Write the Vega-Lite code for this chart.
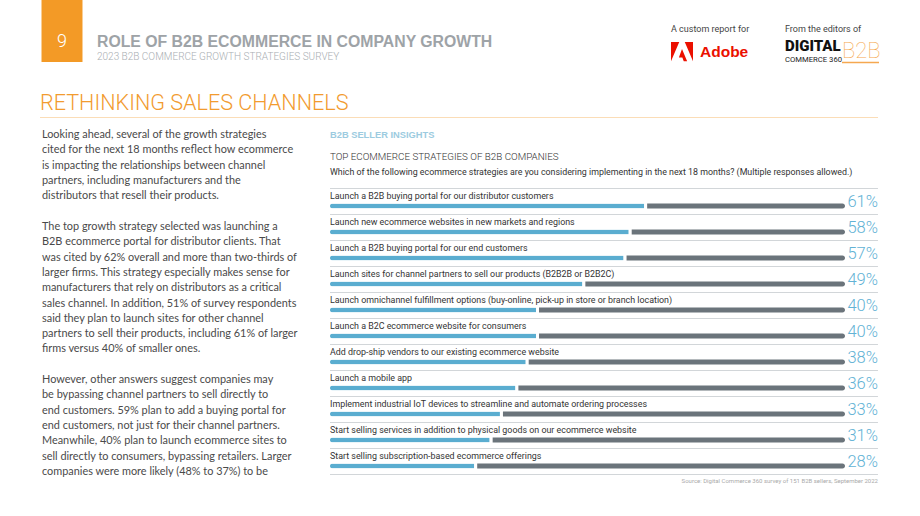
{
  "$schema": "https://vega.github.io/schema/vega-lite/v6.json",
  "width": 920,
  "height": 516,
  "autosize": {"type": "fit", "contains": "padding"},
  "padding": 0,
  "background": "white",
  "config": {"view": {"stroke": null}},
  "data": {"values": [
      {"rank": 1, "strategy": "Launch a B2B buying portal for our distributor customers", "share": 0.61},
      {"rank": 2, "strategy": "Launch new ecommerce websites in new markets and regions", "share": 0.58},
      {"rank": 3, "strategy": "Launch a B2B buying portal for our end customers", "share": 0.57},
      {"rank": 4, "strategy": "Launch sites for channel partners to sell our products (B2B2B or B2B2C)", "share": 0.49},
      {"rank": 5, "strategy": "Launch omnichannel fulfillment options (buy-online, pick-up in store or branch location)", "share": 0.40},
      {"rank": 6, "strategy": "Launch a B2C ecommerce website for consumers", "share": 0.40},
      {"rank": 7, "strategy": "Add drop-ship vendors to our existing ecommerce website", "share": 0.38},
      {"rank": 8, "strategy": "Launch a mobile app", "share": 0.36},
      {"rank": 9, "strategy": "Implement industrial IoT devices to streamline and automate ordering processes", "share": 0.33},
      {"rank": 10, "strategy": "Start selling services in addition to physical goods on our ecommerce website", "share": 0.31},
      {"rank": 11, "strategy": "Start selling subscription-based ecommerce offerings", "share": 0.28}
  ]},
  "layer": [
    {
      "mark": {"type": "rule", "color": "#d2d6d9", "strokeWidth": 1, "yOffset": 0.5},
      "encoding": {
        "y": {"field": "strategy", "type": "nominal", "sort": null, "bandPosition": 0, "axis": null,
              "scale": {"range": [188, 474], "paddingInner": 0, "paddingOuter": 0}},
        "x": {"datum": 0, "type": "quantitative", "axis": null,
              "scale": {"domain": [0, 1], "range": [330, 845], "nice": false, "zero": false}},
        "x2": {"datum": 1.064}
      }
    },
    {
      "transform": [{"filter": "datum.rank == 11"}],
      "mark": {"type": "rule", "color": "#d2d6d9", "strokeWidth": 1, "yOffset": 0.5},
      "encoding": {
        "y": {"field": "strategy", "type": "nominal", "sort": null, "bandPosition": 1, "axis": null},
        "x": {"datum": 0, "type": "quantitative", "axis": null},
        "x2": {"datum": 1.064}
      }
    },
    {
      "mark": {"type": "text", "align": "left", "baseline": "middle", "font": "Roboto",
               "fontSize": 8.9, "color": "#333333", "yOffset": -5, "x": 330},
      "encoding": {
        "y": {"field": "strategy", "type": "nominal", "sort": null, "axis": null},
        "text": {"field": "strategy", "type": "nominal"}
      }
    },
    {
      "mark": {"type": "bar", "height": 5, "color": "#6b747b", "xOffset": 3, "yOffset": 5,
               "cornerRadiusTopRight": 2.5, "cornerRadiusBottomRight": 2.5},
      "encoding": {
        "y": {"field": "strategy", "type": "nominal", "sort": null, "axis": null},
        "x": {"field": "share", "type": "quantitative", "axis": null},
        "x2": {"datum": 1}
      }
    },
    {
      "mark": {"type": "bar", "height": 5, "color": "#5aadd0", "yOffset": 5,
               "cornerRadiusTopLeft": 2.5, "cornerRadiusBottomLeft": 2.5},
      "encoding": {
        "y": {"field": "strategy", "type": "nominal", "sort": null, "axis": null},
        "x": {"field": "share", "type": "quantitative", "axis": null}
      }
    },
    {
      "mark": {"type": "text", "align": "right", "baseline": "middle", "font": "Roboto", "fontWeight": 300,
               "fontSize": 16.5, "color": "#62b2d5", "yOffset": 1},
      "encoding": {
        "y": {"field": "strategy", "type": "nominal", "sort": null, "axis": null},
        "x": {"datum": 1.064, "type": "quantitative", "axis": null},
        "text": {"field": "share", "type": "quantitative", "format": ".0%"}
      }
    },
    {
      "data": {"values": [{}]},
      "mark": {"type": "point", "x": 62, "y": 31, "size": 3844, "filled": true, "opacity": 1,
               "color": "#f39a26", "strokeWidth": 0,
               "shape": "M-0.661,-1L0.661,-1L0.661,1L-0.661,1Z"}
    },
    {
      "data": {"values": [{}]},
      "mark": {"type": "text", "x": 62, "y": 42, "align": "center", "baseline": "middle", "text": "9",
               "font": "Roboto", "fontWeight": 300, "fontSize": 18, "color": "white"}
    },
    {
      "data": {"values": [{}]},
      "mark": {"type": "text", "x": 97, "y": 42, "align": "left", "baseline": "middle",
               "text": "ROLE OF B2B ECOMMERCE IN COMPANY GROWTH",
               "font": "Liberation Sans", "fontWeight": "bold", "fontSize": 15.8, "color": "#9ea3a7"}
    },
    {
      "data": {"values": [{}]},
      "mark": {"type": "text", "x": 97, "y": 57, "align": "left", "baseline": "middle",
               "text": "2023 B2B COMMERCE GROWTH STRATEGIES SURVEY",
               "font": "Roboto", "fontWeight": 300, "fontSize": 10, "color": "#a9aeb2"}
    },
    {
      "data": {"values": [{}]},
      "mark": {"type": "text", "x": 40, "y": 104, "align": "left", "baseline": "middle",
               "text": "RETHINKING SALES CHANNELS",
               "font": "Roboto", "fontWeight": 300, "fontSize": 21.6, "color": "#f29b2f"}
    },
    {
      "data": {"values": [{}]},
      "mark": {"type": "point", "x": 459, "y": 117.5, "size": 702244, "filled": true, "opacity": 1,
               "color": "#fbddb7", "strokeWidth": 0,
               "shape": "M-1,-0.0012L1,-0.0012L1,0.0012L-1,0.0012Z"}
    },
    {
      "data": {"values": [{}]},
      "mark": {"type": "text", "x": 671, "y": 29, "align": "left", "baseline": "middle",
               "text": "A custom report for", "font": "Roboto", "fontSize": 9, "color": "#444444"}
    },
    {
      "data": {"values": [{}]},
      "mark": {"type": "text", "x": 785, "y": 29, "align": "left", "baseline": "middle",
               "text": "From the editors of", "font": "Roboto", "fontSize": 9, "color": "#444444"}
    },
    {
      "data": {"values": [{}]},
      "mark": {"type": "point", "x": 682, "y": 51.5, "size": 484, "filled": true, "opacity": 1,
               "color": "#eb1000", "strokeWidth": 0,
               "shape": "M-1,-0.875L-0.25,-0.875L-1,0.875Z M0.25,-0.875L1,-0.875L1,0.875Z M0,-0.233L0.467,0.875L0.158,0.875L0.033,0.542L-0.283,0.542Z"}
    },
    {
      "data": {"values": [{}]},
      "mark": {"type": "text", "x": 700, "y": 52, "align": "left", "baseline": "middle", "text": "Adobe",
               "font": "Liberation Sans", "fontWeight": "bold", "fontSize": 15.5, "color": "#eb1000"}
    },
    {
      "data": {"values": [{}]},
      "mark": {"type": "text", "x": 785, "y": 46, "align": "left", "baseline": "middle", "text": "DIGITAL",
               "font": "Roboto", "fontWeight": 900, "fontSize": 15, "color": "#111111"}
    },
    {
      "data": {"values": [{}]},
      "mark": {"type": "text", "x": 785, "y": 60, "align": "left", "baseline": "middle", "text": "COMMERCE 360",
               "font": "Roboto", "fontSize": 7.7, "color": "#222222"}
    },
    {
      "data": {"values": [{}]},
      "mark": {"type": "text", "x": 842, "y": 51, "align": "left", "baseline": "middle", "text": "B2B",
               "font": "Roboto", "fontWeight": 100, "fontSize": 22, "color": "#f5a850"}
    },
    {
      "data": {"values": [{}]},
      "mark": {"type": "point", "x": 860.5, "y": 62.5, "size": 1369, "filled": true, "opacity": 1,
               "color": "#f5a850", "strokeWidth": 0,
               "shape": "M-1,-0.035L1,-0.035L1,0.035L-1,0.035Z"}
    },
    {
      "data": {"values": [{}]},
      "mark": {"type": "text", "x": 42, "y": 135, "align": "left", "baseline": "middle",
               "font": "Lato", "fontSize": 10.9, "lineHeight": 15.3, "color": "#4a4a4a",
               "text": [
                 "Looking ahead, several of the growth strategies",
                 "cited for the next 18 months reflect how ecommerce",
                 "is impacting the relationships between channel",
                 "partners, including manufacturers and the",
                 "distributors that resell their products."
               ]}
    },
    {
      "data": {"values": [{}]},
      "mark": {"type": "text", "x": 42, "y": 227, "align": "left", "baseline": "middle",
               "font": "Lato", "fontSize": 10.9, "lineHeight": 15.3, "color": "#4a4a4a",
               "text": [
                 "The top growth strategy selected was launching a",
                 "B2B ecommerce portal for distributor clients. That",
                 "was cited by 62% overall and more than two-thirds of",
                 "larger firms. This strategy especially  makes sense for",
                 "manufacturers that rely on distributors as a critical",
                 "sales channel. In addition, 51% of survey respondents",
                 "said they plan to launch sites for other channel",
                 "partners to sell their products, including 61% of larger",
                 "firms versus 40% of smaller ones."
               ]}
    },
    {
      "data": {"values": [{}]},
      "mark": {"type": "text", "x": 42, "y": 380, "align": "left", "baseline": "middle",
               "font": "Lato", "fontSize": 10.9, "lineHeight": 15.3, "color": "#4a4a4a",
               "text": [
                 "However, other answers suggest companies may",
                 "be bypassing channel partners to sell directly to",
                 "end customers. 59% plan to add a buying portal for",
                 "end customers, not just for their channel partners.",
                 "Meanwhile, 40% plan to launch ecommerce sites to",
                 "sell directly to consumers, bypassing retailers. Larger",
                 "companies were more likely (48% to 37%) to be"
               ]}
    },
    {
      "data": {"values": [{}]},
      "mark": {"type": "text", "x": 330, "y": 135, "align": "left", "baseline": "middle",
               "text": "B2B SELLER INSIGHTS", "font": "Liberation Sans", "fontWeight": "bold",
               "fontSize": 9.3, "color": "#9ccbe0"}
    },
    {
      "data": {"values": [{}]},
      "mark": {"type": "text", "x": 330, "y": 157, "align": "left", "baseline": "middle",
               "text": "TOP ECOMMERCE STRATEGIES OF B2B COMPANIES", "font": "Roboto", "fontWeight": 300,
               "fontSize": 9.8, "color": "#333333"}
    },
    {
      "data": {"values": [{}]},
      "mark": {"type": "text", "x": 330, "y": 172, "align": "left", "baseline": "middle",
               "text": "Which of the following ecommerce strategies are you considering implementing in the next 18 months? (Multiple responses allowed.)",
               "font": "Roboto", "fontSize": 8.85, "color": "#333333"}
    },
    {
      "data": {"values": [{}]},
      "mark": {"type": "text", "x": 878, "y": 481, "align": "right", "baseline": "middle",
               "text": "Source: Digital Commerce 360 survey of 151 B2B sellers, September 2022",
               "font": "Roboto", "fontSize": 6, "color": "#aaaaaa"}
    }
  ]
}
